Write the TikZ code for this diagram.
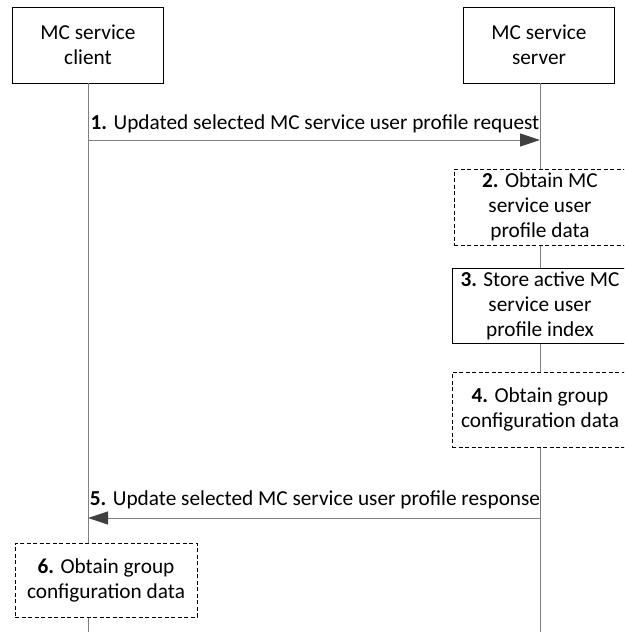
\documentclass[tikz,border=0pt]{standalone}
\usepackage{fontspec}
\setmainfont{Carlito}
\usetikzlibrary{arrows.meta}
\definecolor{lifegray}{RGB}{128,128,128}
\definecolor{tipgray}{RGB}{64,64,64}
\tikzset{
  entity/.style={draw=black, fill=white, minimum width=151pt, minimum height=76pt, align=center, inner sep=2pt, font=\fontsize{21.3}{25}\selectfont},
  action/.style={draw=black, fill=white, align=center, inner sep=1pt, font=\fontsize{21.3}{25}\selectfont},
  optaction/.style={action, dashed, dash pattern=on 4pt off 2.5pt},
  msg/.style={draw=lifegray, line width=0.8pt, -{Triangle[length=20pt,width=13pt,fill=tipgray,color=tipgray]}},
  msglabel/.style={anchor=base, font=\fontsize{21.3}{25}\selectfont, inner sep=0pt},
  life/.style={draw=lifegray, line width=0.9pt}
}
\begin{document}
\begin{tikzpicture}[x=1pt,y=-1pt]
	\useasboundingbox (0,0) rectangle (624,632);
	\clip (0,0) rectangle (624,632);
	% Lifelines
	\coordinate (cbot) at (88,632);
	\coordinate (sbot) at (540,632);
	\node[entity] (client) at (88,45) {MC service\\client};
	\node[entity] (server) at (539,45) {MC service\\server};
	\draw[life] (client.south) -- (client.south |- cbot);
	\draw[life] (540,83) -- (sbot);
	% Nodes
	\node[optaction, minimum width=172pt, minimum height=76pt] (obtainprof) at (540,207) {\textbf{2.} Obtain MC\\service user\\profile data};
	\node[action, minimum width=176pt, minimum height=75pt] (storeidx) at (540,305.5) {\textbf{3.} Store active MC\\service user\\profile index};
	\node[optaction, minimum width=176pt, minimum height=75pt] (obtaingrp) at (540,409.5) {\textbf{4.} Obtain group\\configuration data};
	\node[optaction, minimum width=182pt, minimum height=74pt] (clientgrp) at (106,580) {\textbf{6.} Obtain group\\configuration data};
	\coordinate (req1) at (88,140);
	\coordinate (req2) at (540,140);
	\coordinate (rsp1) at (88,518);
	\coordinate (rsp2) at (540,518);
	% Edges
	\draw[msg] (req1) -- (req2);
	\node[msglabel] (reqlabel) at (315,129) {\textbf{1.} Updated selected MC service user profile request};
	\draw[msg] (rsp2) -- (rsp1);
	\node[msglabel] (rsplabel) at (315,505) {\textbf{5.} Update selected MC service user profile response};
\end{tikzpicture}
\end{document}
